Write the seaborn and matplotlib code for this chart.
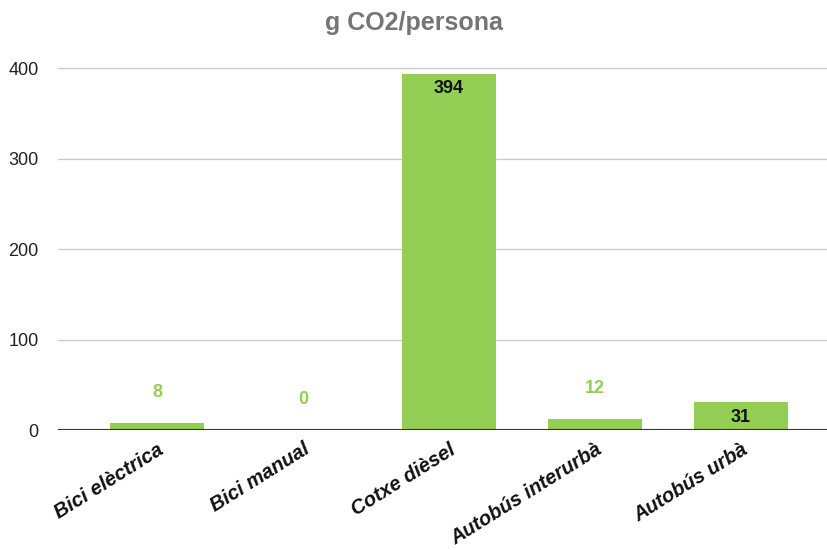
import matplotlib
matplotlib.use("Agg")
import matplotlib.pyplot as plt
import seaborn as sns
import pandas as pd

categories = ["Bici elèctrica", "Bici manual", "Cotxe dièsel", "Autobús interurbà", "Autobús urbà"]
values = [8, 0, 394, 12, 31]
yticks = [0, 100, 200, 300, 400]

sns.set_theme(style="white")
plt.rcParams['font.family'] = ['Liberation Sans', 'DejaVu Sans']

green = "#93cf55"
df = pd.DataFrame({"cat": categories, "val": values})

fig = plt.figure(figsize=(8.27, 5.5), dpi=100)
ax = fig.add_axes([0.070, 0.218, 0.930, 0.658])
sns.barplot(data=df, x="cat", y="val", color=green, width=0.64, ax=ax, saturation=1)
for p in ax.patches:
    p.set_edgecolor("none")

ax.set_xlim(-0.68, 4.59)
ax.set_ylim(0, 400)
ax.set_yticks(yticks)
ax.set_yticklabels([str(t) for t in yticks], fontsize=13, color="#222222")
ax.tick_params(axis="y", length=0, pad=14)
ax.tick_params(axis="x", length=0, pad=7)
ax.set_xticks(range(len(categories)))
ax.set_xticklabels(categories, rotation=32, ha="right", rotation_mode="anchor",
                   fontsize=14.5, fontweight="bold", fontstyle="italic", color="#111111")
ax.set_xlabel("")
ax.set_ylabel("")
for t in yticks[1:]:
    ax.axhline(t, color="#cccccc", lw=1, zorder=0, clip_on=False)
ax.axhline(0, color="#333333", lw=1.5, zorder=3)
for s in ax.spines.values():
    s.set_visible(False)

for i, v in enumerate(values):
    if v > 25:
        ax.annotate(str(v), (i, v), xytext=(0, -11), textcoords="offset points",
                    ha="center", va="center", fontsize=13, fontweight="bold", color="#111111")
    else:
        ax.annotate(str(v), (i, v), xytext=(0, 22), textcoords="offset points",
                    ha="center", va="center", fontsize=13, fontweight="bold", color=green)

fig.text(0.5, 0.958, "g CO2/persona", ha="center", va="center", fontsize=18,
         fontweight="bold", color="#757575")

fig.savefig("out.png", dpi=100)
